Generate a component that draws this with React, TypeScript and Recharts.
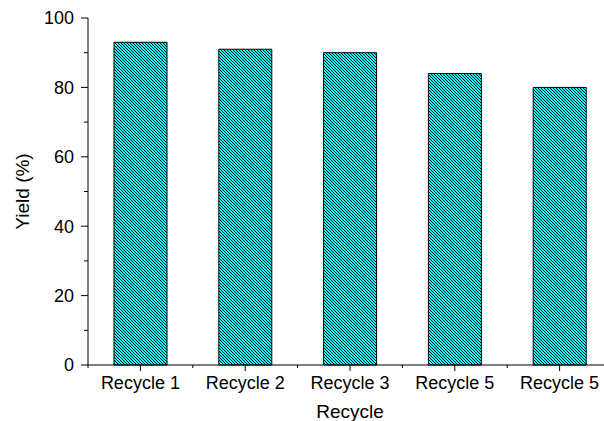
import { BarChart, Bar, XAxis, YAxis } from 'recharts';

const CATEGORIES = ['Recycle 1', 'Recycle 2', 'Recycle 3', 'Recycle 5', 'Recycle 5'];
const YIELDS = [93, 91, 90, 84, 80];
const X_TICKS = [0.5, 1, 1.5, 2, 2.5, 3, 3.5, 4, 4.5, 5, 5.5];
const Y_TICKS = [0, 10, 20, 30, 40, 50, 60, 70, 80, 90, 100];
const Y_LABELED = [0, 20, 40, 60, 80, 100];

const data = CATEGORIES.map((name, i) => ({ pos: i + 1, name, yield: YIELDS[i] }));

const FONT = 'Arial, "Liberation Sans", sans-serif';

function BottomTick({ x, y, payload }: any) {
  const v = payload.value as number;
  const major = Number.isInteger(v);
  return (
    <g>
      <line x1={x} x2={x} y1={y} y2={y + (major ? 6 : 3)} stroke="#000" strokeWidth={1} />
      {major && (
        <text x={x} y={y + 24} textAnchor="middle" fontSize={18} fontFamily={FONT} fill="#000">
          {CATEGORIES[v - 1]}
        </text>
      )}
    </g>
  );
}

function TopTick({ x, y }: any) {
  return <line x1={x} x2={x} y1={y} y2={y + 3} stroke="#000" strokeWidth={1} />;
}

function LeftTick({ x, y, payload }: any) {
  const v = payload.value as number;
  const major = Y_LABELED.includes(v);
  return (
    <g>
      <line x1={x - (major ? 7 : 4)} x2={x} y1={y} y2={y} stroke="#000" strokeWidth={1} />
      {major && (
        <text
          x={x - 14}
          y={y}
          dy="0.36em"
          textAnchor="end"
          fontSize={18}
          fontFamily={FONT}
          fill="#000"
        >
          {v}
        </text>
      )}
    </g>
  );
}

// 3px tile, one-pixel black "\" diagonal
const HATCH_PIXELS = [
  [0, 0],
  [1, 1],
  [2, 2],
];

export default function App() {
  return (
    <div
      style={{
        position: 'absolute',
        left: 0,
        top: 0,
        width: 604,
        height: 421,
        overflow: 'hidden',
        background: '#fff',
      }}
    >
      <BarChart
        width={620}
        height={421}
        data={data}
        margin={{ top: 18, right: 8, bottom: 0, left: 0 }}
      >
        <defs>
          <pattern id="hatch" patternUnits="userSpaceOnUse" x={0} y={0} width={3} height={3}>
            <rect width={3} height={3} fill="#00FFFF" shapeRendering="crispEdges" />
            {HATCH_PIXELS.map(([px, py]) => (
              <rect
                key={`${px}-${py}`}
                x={px}
                y={py}
                width={1}
                height={1}
                fill="#000"
                shapeRendering="crispEdges"
              />
            ))}
          </pattern>
        </defs>
        <XAxis
          xAxisId="bottom"
          dataKey="pos"
          type="number"
          domain={[0.5, 5.5]}
          ticks={X_TICKS}
          interval={0}
          height={56}
          tickSize={0}
          tickMargin={0}
          tickLine={false}
          axisLine={{ stroke: '#000', strokeWidth: 1 }}
          tick={<BottomTick />}
          label={{
            content: ({ viewBox }: any) => (
              <text
                x={viewBox.x + viewBox.width / 2}
                y={viewBox.y + 53}
                textAnchor="middle"
                fontSize={19}
                fontFamily={FONT}
                fill="#000"
              >
                Recycle
              </text>
            ),
          }}
        />
        <XAxis
          xAxisId="top"
          orientation="top"
          dataKey="pos"
          type="number"
          domain={[0.5, 5.5]}
          ticks={X_TICKS}
          interval={0}
          height={0}
          tickSize={0}
          tickMargin={0}
          tickLine={false}
          axisLine={{ stroke: '#000', strokeWidth: 1 }}
          tick={<TopTick />}
        />
        <YAxis
          domain={[0, 100]}
          ticks={Y_TICKS}
          interval={0}
          width={88}
          tickSize={0}
          tickMargin={0}
          tickLine={false}
          axisLine={{ stroke: '#000', strokeWidth: 1 }}
          tick={<LeftTick />}
          label={{
            content: ({ viewBox }: any) => {
              const cx = viewBox.x + 22;
              const cy = viewBox.y + viewBox.height / 2;
              return (
                <text
                  x={cx}
                  y={cy}
                  transform={`rotate(-90 ${cx} ${cy})`}
                  textAnchor="middle"
                  dominantBaseline="central"
                  fontSize={19}
                  fontFamily={FONT}
                  fill="#000"
                >
                  Yield (%)
                </text>
              );
            },
          }}
        />
        <Bar
          xAxisId="bottom"
          dataKey="yield"
          barSize={53}
          fill="url(#hatch)"
          stroke="#000"
          strokeWidth={1}
          isAnimationActive={false}
        />
      </BarChart>
    </div>
  );
}
